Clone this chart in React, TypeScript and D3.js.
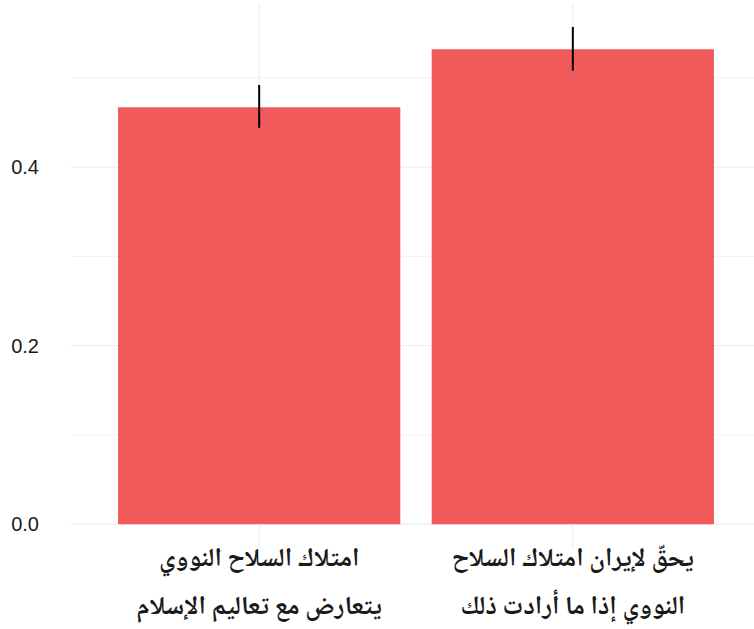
import { useEffect, useRef } from 'react';
import * as d3 from 'd3';

const categories = ['a', 'b'];
const labelLines = [
  ['امتلاك السلاح النووي', 'يتعارض مع تعاليم الإسلام'],
  ['يحقّ لإيران امتلاك السلاح', 'النووي إذا ما أرادت ذلك'],
];
const values = [0.467, 0.532];
const errLow = [0.444, 0.508];
const errHigh = [0.492, 0.557];
const majorTicks = [0, 0.2, 0.4];
const minorTicks = [0.1, 0.3, 0.5];

export default function App() {
  const svgRef = useRef<SVGSVGElement>(null);

  useEffect(() => {
    document.body.style.margin = '0';
    if (!svgRef.current) return;
    const svg = d3.select(svgRef.current);
    svg.selectAll('*').remove();

    const width = 754;
    const height = 629;

    const x = d3.scaleBand().domain(categories).range([71, 761]).paddingInner(0.1).paddingOuter(0.15);
    const y = d3.scaleLinear().domain([-0.0278, 0.5838]).range([549, 3]);

    svg.attr('width', width).attr('height', height);

    // minor grid
    svg
      .append('g')
      .selectAll('line')
      .data(minorTicks)
      .enter()
      .append('line')
      .attr('x1', 71)
      .attr('x2', width)
      .attr('y1', (d) => y(d))
      .attr('y2', (d) => y(d))
      .attr('stroke', '#F3F3F3')
      .attr('stroke-width', 1);

    // major grid
    svg
      .append('g')
      .selectAll('line')
      .data(majorTicks)
      .enter()
      .append('line')
      .attr('x1', 71)
      .attr('x2', width)
      .attr('y1', (d) => y(d))
      .attr('y2', (d) => y(d))
      .attr('stroke', '#EBEBEB')
      .attr('stroke-width', 1);

    svg
      .append('g')
      .selectAll('line')
      .data(categories)
      .enter()
      .append('line')
      .attr('x1', (d) => (x(d) || 0) + x.bandwidth() / 2)
      .attr('x2', (d) => (x(d) || 0) + x.bandwidth() / 2)
      .attr('y1', 3)
      .attr('y2', 549)
      .attr('stroke', '#EBEBEB')
      .attr('stroke-width', 1);

    // bars
    svg
      .selectAll('.bar')
      .data(values)
      .enter()
      .append('rect')
      .attr('class', 'bar')
      .attr('x', (d, i) => x(categories[i]) || 0)
      .attr('y', (d) => y(d))
      .attr('width', x.bandwidth())
      .attr('height', (d) => y(0) - y(d))
      .attr('fill', '#F05A5A');

    // error bars
    svg
      .selectAll('.err')
      .data(categories)
      .enter()
      .append('line')
      .attr('class', 'err')
      .attr('x1', (d) => (x(d) || 0) + x.bandwidth() / 2)
      .attr('x2', (d) => (x(d) || 0) + x.bandwidth() / 2)
      .attr('y1', (d, i) => y(errLow[i]))
      .attr('y2', (d, i) => y(errHigh[i]))
      .attr('stroke', '#000')
      .attr('stroke-width', 2);

    // y tick labels
    svg
      .append('g')
      .selectAll('text')
      .data(majorTicks)
      .enter()
      .append('text')
      .attr('x', 39)
      .attr('y', (d) => y(d))
      .attr('dy', '0.36em')
      .attr('text-anchor', 'end')
      .style('font-family', 'Liberation Sans, Arial, sans-serif')
      .style('font-size', '20px')
      .style('fill', '#1a1a1a')
      .text((d) => d3.format('.1f')(d));

    // x labels
    const xl = svg
      .append('g')
      .selectAll('text')
      .data(categories)
      .enter()
      .append('text')
      .attr('x', (d) => (x(d) || 0) + x.bandwidth() / 2)
      .attr('text-anchor', 'middle')
      .attr('direction', 'rtl')
      .style('font-family', '"Noto Naskh Arabic", "Noto Sans Arabic", "DejaVu Sans", sans-serif')
      .style('font-size', '26px')
      .style('font-weight', 'bold')
      .style('fill', '#1a1a1a');

    xl.each(function (d, i) {
      const t = d3.select(this);
      labelLines[i].forEach((line, j) => {
        t.append('tspan')
          .attr('x', (x(d) || 0) + x.bandwidth() / 2)
          .attr('y', 566 + j * 48)
          .text(line);
      });
    });
  }, []);

  return <svg ref={svgRef} />;
}
